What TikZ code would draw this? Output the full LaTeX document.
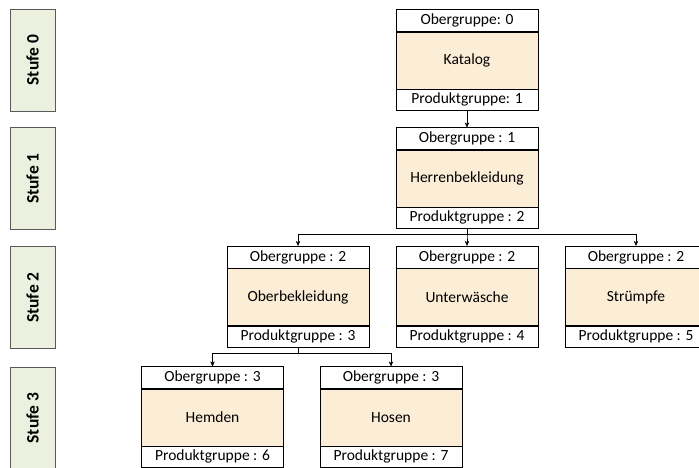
\documentclass[tikz,border=0pt]{standalone}
\usepackage{fontspec}
\setmainfont{Carlito}
\usetikzlibrary{positioning,arrows.meta}

\definecolor{rumpfgelb}{HTML}{FCEDD6}
\definecolor{stufegruen}{HTML}{EBF1DE}

\tikzset{
  kopf/.style={draw,fill=white,minimum width=142pt,minimum height=22pt,
    inner sep=0pt,font=\fontsize{15.5}{17}\selectfont},
  rumpf/.style={kopf,fill=rumpfgelb,minimum height=57pt},
  fuss/.style={kopf,minimum height=21pt},
  stufebox/.style={draw=black!65,fill=stufegruen,thick,rotate=90,
    minimum width=102pt,minimum height=45pt,inner sep=0pt,
    font=\fontsize{17.5}{19}\selectfont\bfseries},
  pfeil/.style={-{Stealth[length=5pt,width=4.5pt]}}
}

\begin{document}
\begin{tikzpicture}[x=1pt,y=-1pt]
  \path[use as bounding box,clip] (0,0) rectangle (699,467);
  % Stufen links
  \node[stufebox] (s0) at (32.5,60) {Stufe 0};
  \node[stufebox] (s1) at (32.5,178.5) {Stufe 1};
  \node[stufebox] (s2) at (32.5,297.5) {Stufe 2};
  \node[stufebox] (s3) at (32.5,418) {Stufe 3};
  %
  % Stufe 0
  \node[rumpf] (katalog) at (467,60.5) {Katalog};
  \node[kopf,above=0pt of katalog] (katalog-og) {Obergruppe: 0};
  \node[fuss,below=0pt of katalog] (katalog-pg) {Produktgruppe: 1};
  % Stufe 1
  \node[rumpf] (herren) at (467,178.5) {Herrenbekleidung};
  \node[kopf,above=0pt of herren] (herren-og) {Obergruppe : 1};
  \node[fuss,below=0pt of herren] (herren-pg) {Produktgruppe : 2};
  % Stufe 2
  \node[rumpf] (ober) at (298,297) {Oberbekleidung};
  \node[kopf,above=0pt of ober] (ober-og) {Obergruppe : 2};
  \node[fuss,below=0pt of ober] (ober-pg) {Produktgruppe : 3};
  \node[rumpf] (unter) at (467,297) {Unterwäsche};
  \node[kopf,above=0pt of unter] (unter-og) {Obergruppe : 2};
  \node[fuss,below=0pt of unter] (unter-pg) {Produktgruppe : 4};
  \node[rumpf] (struempfe) at (636,297) {Strümpfe};
  \node[kopf,above=0pt of struempfe] (struempfe-og) {Obergruppe : 2};
  \node[fuss,below=0pt of struempfe] (struempfe-pg) {Produktgruppe : 5};
  % Stufe 3
  \node[rumpf] (hemden) at (212.5,417.5) {Hemden};
  \node[kopf,above=0pt of hemden] (hemden-og) {Obergruppe : 3};
  \node[fuss,below=0pt of hemden] (hemden-pg) {Produktgruppe : 6};
  \node[rumpf] (hosen) at (391,417.5) {Hosen};
  \node[kopf,above=0pt of hosen] (hosen-og) {Obergruppe : 3};
  \node[fuss,below=0pt of hosen] (hosen-pg) {Produktgruppe : 7};
  %
  \draw[pfeil] (katalog-pg) -- (herren-og);
  \foreach \k in {ober,unter,struempfe}
    {\draw[pfeil] (herren-pg.south) -- ++(0,6) -| (\k-og.north);}
  \foreach \k in {hemden,hosen}
    {\draw[pfeil] (ober-pg.south) -- ++(0,6) -| (\k-og.north);}
\end{tikzpicture}
\end{document}
